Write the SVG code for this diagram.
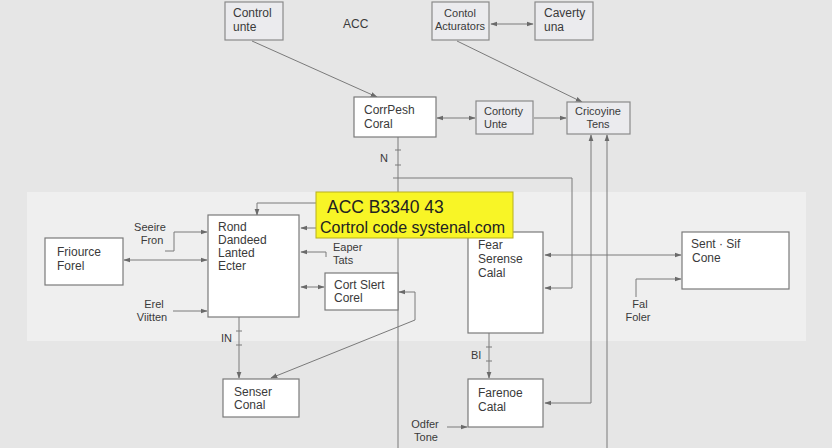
<svg xmlns="http://www.w3.org/2000/svg" width="832" height="448" viewBox="0 0 832 448">
<style>
.bx{fill:#ebebee;stroke:#8a8a8a;stroke-width:1.2}
.wb{fill:#ffffff;stroke:#7a7a7a;stroke-width:1.2}
.t{font-family:"Liberation Sans",Arial,sans-serif;font-size:12px;fill:#3a3a3a}
.s{font-family:"Liberation Sans",Arial,sans-serif;font-size:11px;fill:#3a3a3a}
.c{fill:none;stroke:#7a7a7a;stroke-width:1}
.tk{stroke:#7a7a7a;stroke-width:1}
</style>
<defs>
<marker id="ah" viewBox="0 0 10 10" refX="9" refY="5" markerWidth="7" markerHeight="7" orient="auto-start-reverse" markerUnits="userSpaceOnUse">
<path d="M0,1.5 L10,5 L0,8.5 z" fill="#6a6a6a"/>
</marker>
</defs>
<rect x="0" y="0" width="832" height="448" fill="#e6e6e6"/>
<rect x="27" y="192" width="779" height="149" fill="#efefef"/>

<g id="connectors">
<path class="c" d="M252,41 L377,97" marker-end="url(#ah)"/>
<path class="c" d="M457,41 L582,102" marker-end="url(#ah)"/>
<path class="c" d="M491,24 L533,24" marker-start="url(#ah)" marker-end="url(#ah)"/>
<path class="c" d="M437,118 L475,118" marker-start="url(#ah)" marker-end="url(#ah)"/>
<path class="c" d="M534,118 L566,118" marker-end="url(#ah)"/>
<path class="c" d="M398,137 L398,448"/>
<line class="tk" x1="395" y1="150" x2="401" y2="150"/>
<line class="tk" x1="395" y1="165" x2="401" y2="165"/>
<path class="c" d="M393,178 L572,178 L572,288 L545,288" marker-end="url(#ah)"/>
<path class="c" d="M545,403 L591,403 L591,135" marker-start="url(#ah)" marker-end="url(#ah)"/>
<path class="c" d="M607,448 L607,135" marker-end="url(#ah)"/>
<path class="c" d="M316,203 L257,203 L257,215" marker-end="url(#ah)"/>
<path class="c" d="M316,228 L301,228" marker-end="url(#ah)"/>
<path class="c" d="M165,251 L174,251 L174,232 L207,232" marker-end="url(#ah)"/>
<path class="c" d="M124,260 L207,260" marker-start="url(#ah)" marker-end="url(#ah)"/>
<path class="c" d="M173,311 L207,311" marker-end="url(#ah)"/>
<path class="c" d="M326,257 L326,252 L301,252" marker-end="url(#ah)"/>
<path class="c" d="M301,287 L324,287" marker-start="url(#ah)" marker-end="url(#ah)"/>
<path class="c" d="M399,292 L415,292 L415,320 L271,378" marker-start="url(#ah)" marker-end="url(#ah)"/>
<path class="c" d="M239,317 L239,378" marker-end="url(#ah)"/>
<line class="tk" x1="236" y1="331" x2="242" y2="331"/>
<line class="tk" x1="236" y1="345" x2="242" y2="345"/>
<path class="c" d="M545,255 L681,255" marker-start="url(#ah)" marker-end="url(#ah)"/>
<path class="c" d="M636,297 L636,279 L681,279" marker-end="url(#ah)"/>
<path class="c" d="M489,333 L489,378" marker-end="url(#ah)"/>
<line class="tk" x1="486" y1="347" x2="492" y2="347"/>
<line class="tk" x1="486" y1="361" x2="492" y2="361"/>
<path class="c" d="M447,427 L467,427" marker-end="url(#ah)"/>
<text class="s" x="380" y="162">N</text>
<text class="s" x="221" y="342">IN</text>
<text class="s" x="471" y="359">BI</text>
</g>

<g id="control-unte"><rect class="bx" x="225" y="2" width="58" height="38"/>
<text class="t" x="233" y="17">Control</text><text class="t" x="233" y="31">unte</text></g>
<g id="acc-label"><text class="t" x="343" y="28">ACC</text></g>
<g id="contol-acturators"><rect class="bx" x="432" y="2" width="57" height="38"/>
<text class="s" x="460" y="17" text-anchor="middle">Contol</text><text class="s" x="460" y="30" text-anchor="middle">Acturators</text></g>
<g id="caverty-una"><rect class="bx" x="535" y="2" width="58" height="38"/>
<text class="t" x="544" y="17">Caverty</text><text class="t" x="544" y="31">una</text></g>
<g id="corrpesh-coral"><rect class="wb" x="354" y="97" width="82" height="40"/>
<text class="t" x="364" y="114">CorrPesh</text><text class="t" x="364" y="128">Coral</text></g>
<g id="cortorty-unte"><rect class="bx" x="476" y="101" width="57" height="33"/>
<text class="s" x="484" y="115">Cortorty</text><text class="s" x="484" y="128">Unte</text></g>
<g id="cricoyine-tens"><rect class="bx" x="567" y="102" width="63" height="32"/>
<text class="s" x="598" y="115" text-anchor="middle">Cricoyine</text><text class="s" x="598" y="128" text-anchor="middle">Tens</text></g>

<g id="friource-forel"><rect class="wb" x="45" y="238" width="78" height="47"/>
<text class="t" x="57" y="256">Friource</text><text class="t" x="57" y="270">Forel</text></g>
<g id="seeire-fron"><text class="s" x="150" y="231" text-anchor="middle">Seeire</text><text class="s" x="152" y="244" text-anchor="middle">Fron</text></g>
<g id="erel-viitten"><text class="s" x="154" y="308" text-anchor="middle">Erel</text><text class="s" x="152" y="321" text-anchor="middle">Viitten</text></g>
<g id="rond-lanted-ecter"><rect class="wb" x="208" y="215" width="91" height="102"/>
<text class="t" x="218" y="231">Rond</text><text class="t" x="218" y="244">Dandeed</text><text class="t" x="218" y="257">Lanted</text><text class="t" x="218" y="270">Ecter</text></g>
<g id="eaper-tats"><text class="s" x="333" y="251">Eaper</text><text class="s" x="333" y="264">Tats</text></g>
<g id="cort-slert-corel"><rect class="wb" x="325" y="273" width="73" height="37"/>
<text class="t" x="334" y="289">Cort Slert</text><text class="t" x="334" y="302">Corel</text></g>
<g id="senser-conal"><rect class="wb" x="223" y="379" width="76" height="38"/>
<text class="t" x="234" y="396">Senser</text><text class="t" x="234" y="409">Conal</text></g>
<g id="fear-serense-calal"><rect class="wb" x="468" y="232" width="75" height="101"/>
<text class="t" x="478" y="249">Fear</text><text class="t" x="478" y="263">Serense</text><text class="t" x="478" y="277">Calal</text></g>
<g id="sent-sif-cone"><rect class="wb" x="682" y="232" width="107" height="57"/>
<text class="t" x="691" y="248">Sent · Sif</text><text class="t" x="692" y="262">Cone</text></g>
<g id="fal-foler"><text class="s" x="640" y="308" text-anchor="middle">Fal</text><text class="s" x="638" y="321" text-anchor="middle">Foler</text></g>
<g id="farenoe-catal"><rect class="wb" x="468" y="379" width="75" height="48"/>
<text class="t" x="478" y="397">Farenoe</text><text class="t" x="478" y="411">Catal</text></g>
<g id="odfer-tone"><text class="s" x="425" y="428" text-anchor="middle">Odfer</text><text class="s" x="426" y="441" text-anchor="middle">Tone</text></g>

<g id="acc-banner"><rect x="316" y="192" width="197" height="46" fill="#f8f526" stroke="#b8b020" stroke-width="1"/>
<text x="327" y="213" font-family="'Liberation Sans',Arial,sans-serif" font-size="17.5" fill="#222">ACC  B3340 43</text>
<text x="320" y="233" font-family="'Liberation Sans',Arial,sans-serif" font-size="16" fill="#222">Cortrol code systenal.com</text></g>
</svg>
